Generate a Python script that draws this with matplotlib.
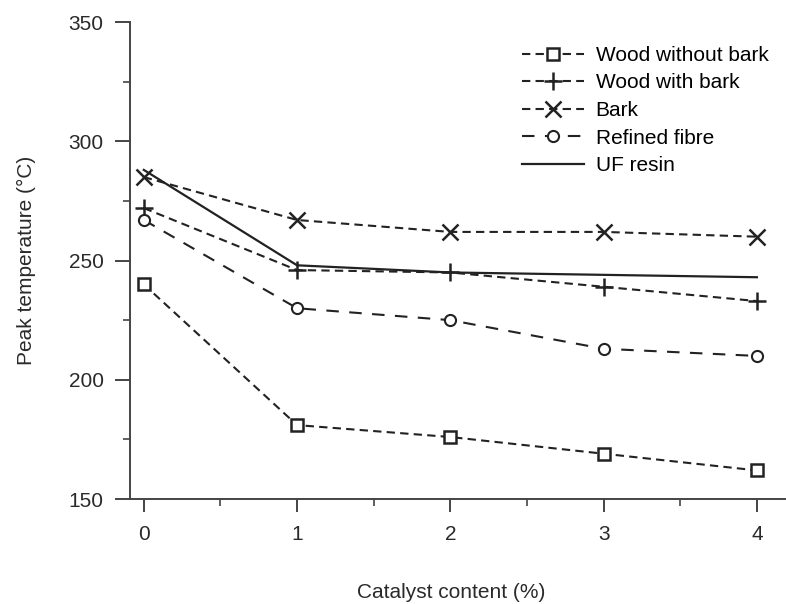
import matplotlib
matplotlib.use('Agg')
import matplotlib.pyplot as plt
from matplotlib.ticker import MultipleLocator

plt.rcParams['font.family'] = ['Liberation Sans', 'DejaVu Sans']

catalyst = [0, 1, 2, 3, 4]
wood_no_bark = [240, 181, 176, 169, 162]
wood_bark = [272, 246, 245, 239, 233]
bark = [285, 267, 262, 262, 260]
refined_fibre = [267, 230, 225, 213, 210]
uf_resin = [288, 248, 245, 244, 243]

ink = '#222222'
fs = 15

fig = plt.figure(figsize=(7.86, 6.04), dpi=100)
ax = fig.add_axes([0.1654, 0.1738, 0.8346, 0.7897])

short_dash = (0, (4, 2.5))
long_dash = (0, (6, 5))

ax.plot(catalyst, wood_no_bark, linestyle=short_dash, color=ink, lw=1.5,
        marker='s', ms=9, mfc='white', mec=ink, mew=1.8, label='Wood without bark')
ax.plot(catalyst, wood_bark, linestyle=short_dash, color=ink, lw=1.5,
        marker='+', ms=13, mec=ink, mew=1.8, label='Wood with bark')
ax.plot(catalyst, bark, linestyle=short_dash, color=ink, lw=1.5,
        marker='x', ms=11, mec=ink, mew=1.8, label='Bark')
ax.plot(catalyst, refined_fibre, linestyle=long_dash, color=ink, lw=1.5,
        marker='o', ms=8, mfc='white', mec=ink, mew=1.5, label='Refined fibre')
ax.plot(catalyst, uf_resin, linestyle='-', color=ink, lw=1.6, label='UF resin')

ax.set_xlim(-0.09, 4.19)
ax.set_ylim(150, 350)
ax.xaxis.set_major_locator(MultipleLocator(1))
ax.xaxis.set_minor_locator(MultipleLocator(0.5))
ax.yaxis.set_major_locator(MultipleLocator(50))
ax.yaxis.set_minor_locator(MultipleLocator(25))

for side in ['top', 'right']:
    ax.spines[side].set_visible(False)
for side in ['left', 'bottom']:
    ax.spines[side].set_color('#444444')
    ax.spines[side].set_linewidth(1.4)

ax.tick_params(axis='both', which='major', labelsize=fs, colors='#444444',
               labelcolor='#2a2a2a', width=1.4)
ax.tick_params(axis='x', which='major', length=9.5, pad=9)
ax.tick_params(axis='y', which='major', length=11, pad=8)
ax.tick_params(axis='x', which='minor', length=5, width=1.2, colors='#444444')
ax.tick_params(axis='y', which='minor', length=5, width=1.2, colors='#444444')

ax.set_xlabel('Catalyst content (%)', fontsize=fs, color='#2a2a2a')
ax.set_ylabel('Peak temperature (°C)', fontsize=fs, color='#2a2a2a')
ax.xaxis.set_label_coords(0.489, -0.176)
ax.yaxis.set_label_coords(-0.143, 0.5)

ax.legend(loc='upper left', bbox_to_anchor=(0.597, 0.950), frameon=False,
          fontsize=fs, handlelength=3.0, handletextpad=0.55, labelspacing=0.41,
          borderpad=0, borderaxespad=0)

fig.savefig('out.png', dpi=100)
